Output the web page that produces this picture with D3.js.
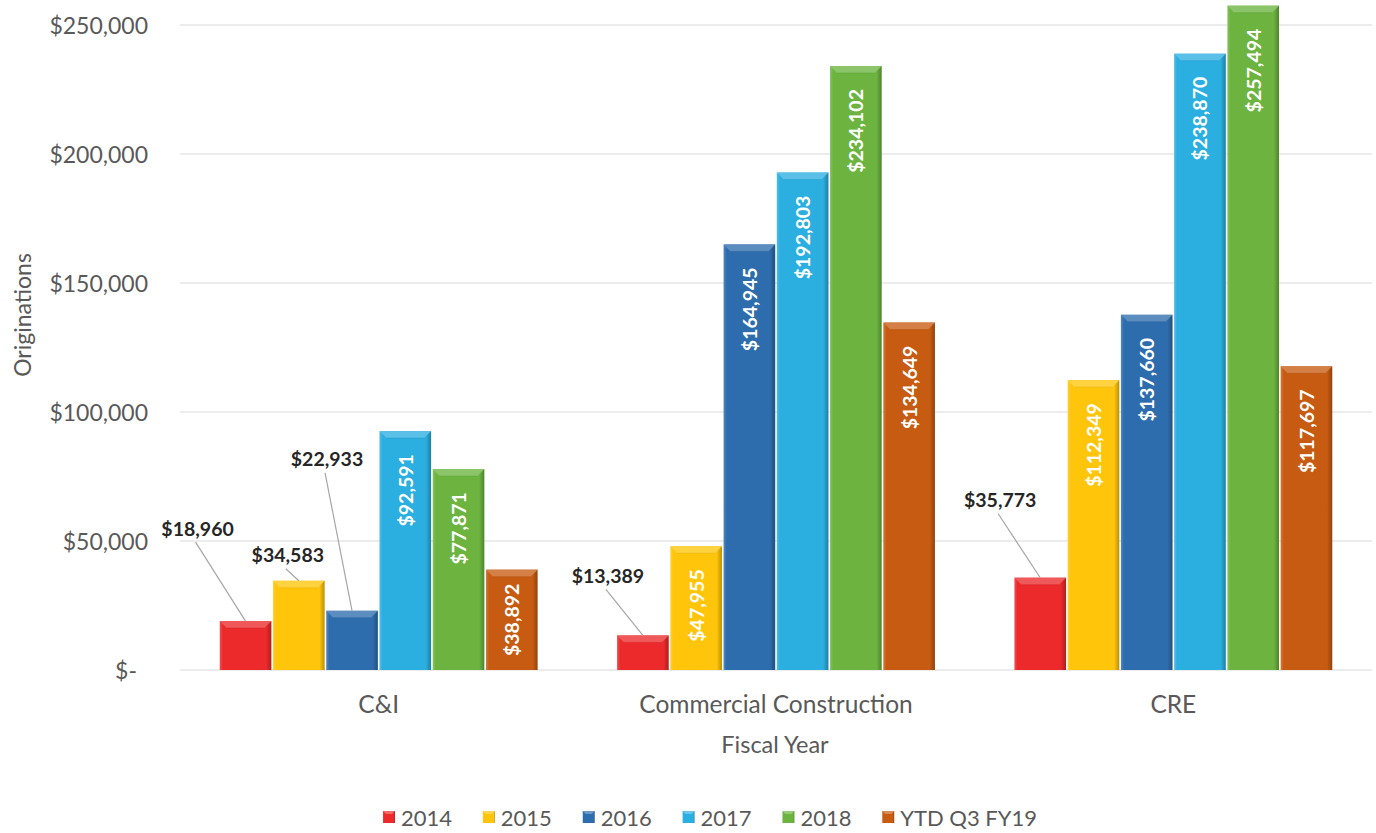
<!DOCTYPE html>
<html>
<head>
<meta charset="utf-8">
<script src="https://cdn.jsdelivr.net/npm/d3@7"></script>
<style>
  html, body { margin: 0; padding: 0; background: #fff; }
  svg { display: block; }
  text { font-family: Lato, "Open Sans", sans-serif; }
</style>
</head>
<body>
<svg id="chart" width="1376" height="833"></svg>
<script>
// Loan originations by segment and fiscal year
const categories = ["C&I", "Commercial Construction", "CRE"];
const seriesNames = ["2014", "2015", "2016", "2017", "2018", "YTD Q3 FY19"];
const values2014 = [18960, 13389, 35773];
const values2015 = [34583, 47955, 112349];
const values2016 = [22933, 164945, 137660];
const values2017 = [92591, 192803, 238870];
const values2018 = [77871, 234102, 257494];
const valuesYTD = [38892, 134649, 117697];
const yTicks = [0, 50000, 100000, 150000, 200000, 250000];
const colors = ["#EC2A2C", "#FFC50A", "#2E6DAD", "#2BAEE0", "#6CB43F", "#C75B12"];

// Labels that sit outside their bars, with a leader line (offset from bar top centre)
const outsideLabels = [
  { cat: 0, s: 0, dx: -48, dy: -93 },
  { cat: 0, s: 1, dx: -11, dy: -26 },
  { cat: 0, s: 2, dx: -25, dy: -152 },
  { cat: 1, s: 0, dx: -35, dy: -60 },
  { cat: 2, s: 0, dx: -40, dy: -78 }
];

const seriesValues = [values2014, values2015, values2016, values2017, values2018, valuesYTD];
const data = categories.map((c, i) => ({
  category: c,
  bars: seriesNames.map((s, j) => ({ series: s, idx: j, value: seriesValues[j][i] }))
}));

const svg = d3.select("#chart");
const margin = { left: 180, right: 4, top: 25, bottom: 163 };
const W = 1376, H = 833;
const axisColor = "#595959";

const x0 = d3.scaleBand().domain(categories).range([margin.left, W - margin.right]).padding(0);
const x1 = d3.scaleBand().domain(seriesNames)
  .range([x0.bandwidth() * 0.1, x0.bandwidth() * 0.9]).paddingInner(0.03);
const y = d3.scaleLinear().domain([0, 250000]).range([H - margin.bottom, margin.top]);

const fmt = v => "$" + d3.format(",")(v);

// gradients for bevelled bars
const defs = svg.append("defs");
colors.forEach((c, i) => {
  const base = d3.color(c);
  const g = defs.append("linearGradient").attr("id", "grad" + i)
    .attr("x1", 0).attr("x2", 1).attr("y1", 0).attr("y2", 0);
  g.append("stop").attr("offset", "0%").attr("stop-color", d3.interpolateRgb(c, "#fff")(0.18));
  g.append("stop").attr("offset", "6%").attr("stop-color", c);
  g.append("stop").attr("offset", "90%").attr("stop-color", c);
  g.append("stop").attr("offset", "100%").attr("stop-color", base.darker(0.9));
});

// gridlines
svg.append("g")
  .selectAll("line").data(yTicks).join("line")
  .attr("x1", margin.left).attr("x2", W - margin.right)
  .attr("y1", d => y(d)).attr("y2", d => y(d))
  .attr("stroke", "#D9D9D9").attr("stroke-width", 1.2);

// y axis labels
const yAxis = d3.axisLeft(y).tickValues(yTicks).tickSize(0).tickPadding(0)
  .tickFormat(d => d === 0 ? "$-" : fmt(d));
const yg = svg.append("g").attr("transform", `translate(${148},0)`).call(yAxis);
yg.select(".domain").remove();
yg.selectAll("text").attr("font-size", 23).attr("fill", axisColor)
  .attr("font-family", "Lato, sans-serif").attr("dy", "0.35em");
// "$-" aligned like an accounting format
yg.selectAll(".tick").filter(d => d === 0).select("text").attr("x", -11);

// x axis labels
const xAxis = d3.axisBottom(x0).tickSize(0).tickPadding(0);
const xg = svg.append("g").attr("transform", `translate(0,${y(0) + 34})`).call(xAxis);
xg.select(".domain").remove();
xg.selectAll("text").attr("font-size", 24.5).attr("fill", axisColor)
  .attr("font-family", "Lato, sans-serif").attr("dy", "0.35em");

// axis titles
svg.append("text").attr("x", (margin.left + W - margin.right) / 2 - 1).attr("y", 744)
  .attr("text-anchor", "middle").attr("dominant-baseline", "central")
  .attr("font-size", 23.5).attr("fill", axisColor).text("Fiscal Year");
svg.append("text").attr("transform", `translate(22,315) rotate(-90)`)
  .attr("text-anchor", "middle").attr("dominant-baseline", "central")
  .attr("font-size", 23).attr("fill", axisColor).text("Originations");

// bars
const groups = svg.append("g").selectAll("g").data(data).join("g")
  .attr("transform", d => `translate(${x0(d.category)},0)`);

const bar = groups.selectAll("g.bar").data(d => d.bars).join("g").attr("class", "bar");
bar.append("rect")
  .attr("x", d => x1(d.series)).attr("width", x1.bandwidth())
  .attr("y", d => y(d.value)).attr("height", d => y(0) - y(d.value))
  .attr("fill", d => `url(#grad${d.idx})`);
// top bevel
bar.append("path")
  .attr("d", d => {
    const xl = x1(d.series), xr = xl + x1.bandwidth(), t = y(d.value), b = 7;
    return `M${xl},${t}L${xr},${t}L${xr - b},${t + b}L${xl + b},${t + b}Z`;
  })
  .attr("fill", d => d3.interpolateRgb(colors[d.idx], "#fff")(0.22));
// lower edge of the bevel
bar.append("line")
  .attr("x1", d => x1(d.series) + 7).attr("x2", d => x1(d.series) + x1.bandwidth() - 7)
  .attr("y1", d => y(d.value) + 7).attr("y2", d => y(d.value) + 7)
  .attr("stroke", d => d3.color(colors[d.idx]).darker(0.3)).attr("stroke-width", 1).attr("opacity", 0.5);

// inside-end labels (pulled up if a short bar would not hold them)
const isOutside = (ci, s) => outsideLabels.some(o => o.cat === ci && o.s === s);
groups.each(function (d, ci) {
  const g = d3.select(this);
  d.bars.forEach(b => {
    if (isOutside(ci, b.idx)) return;
    const cx = x1(b.series) + x1.bandwidth() / 2;
    const t = g.append("text")
      .attr("text-anchor", "end").attr("dominant-baseline", "central")
      .attr("font-size", 19.5).attr("font-weight", 700).attr("fill", "#fff")
      .text(fmt(b.value));
    const len = t.node().getComputedTextLength();
    const top = Math.min(y(b.value) + 23, y(0) - len - 14);
    t.attr("transform", `translate(${cx},${top}) rotate(-90)`);
  });
});

// outside labels with leader lines
outsideLabels.forEach(o => {
  const b = data[o.cat].bars[o.s];
  const bx = x0(data[o.cat].category) + x1(b.series) + x1.bandwidth() / 2;
  const by = y(b.value);
  const lx = bx + o.dx, ly = by + o.dy;
  svg.append("line")
    .attr("x1", lx - 2).attr("y1", ly + 14).attr("x2", bx).attr("y2", by)
    .attr("stroke", "#A6A6A6").attr("stroke-width", 1.2);
  svg.append("text").attr("x", lx).attr("y", ly)
    .attr("text-anchor", "middle").attr("dominant-baseline", "central")
    .attr("font-size", 19.5).attr("font-weight", 700).attr("fill", "#262626")
    .text(fmt(b.value));
});

// legend, spread across a fixed width
const legendLeft = 383, legendRight = 1037;
const legend = svg.append("g").attr("transform", `translate(0,817)`);
const itemGroups = seriesNames.map((s, i) => {
  const g = legend.append("g");
  g.append("rect").attr("x", 0).attr("y", -6).attr("width", 12).attr("height", 12)
    .attr("fill", `url(#grad${i})`);
  g.append("path").attr("d", "M0,-6L12,-6L9,-3L3,-3Z").attr("fill", d3.interpolateRgb(colors[i], "#fff")(0.3));
  const t = g.append("text").attr("x", 18).attr("y", 0).attr("dominant-baseline", "central")
    .attr("font-size", 22).attr("fill", axisColor).text(s);
  return { g, w: 18 + t.node().getComputedTextLength() };
});
const sumW = d3.sum(itemGroups, d => d.w);
const gap = (legendRight - legendLeft - sumW) / (itemGroups.length - 1);
let pos = legendLeft;
itemGroups.forEach(it => { it.g.attr("transform", `translate(${pos},0)`); pos += it.w + gap; });
</script>
</body>
</html>
